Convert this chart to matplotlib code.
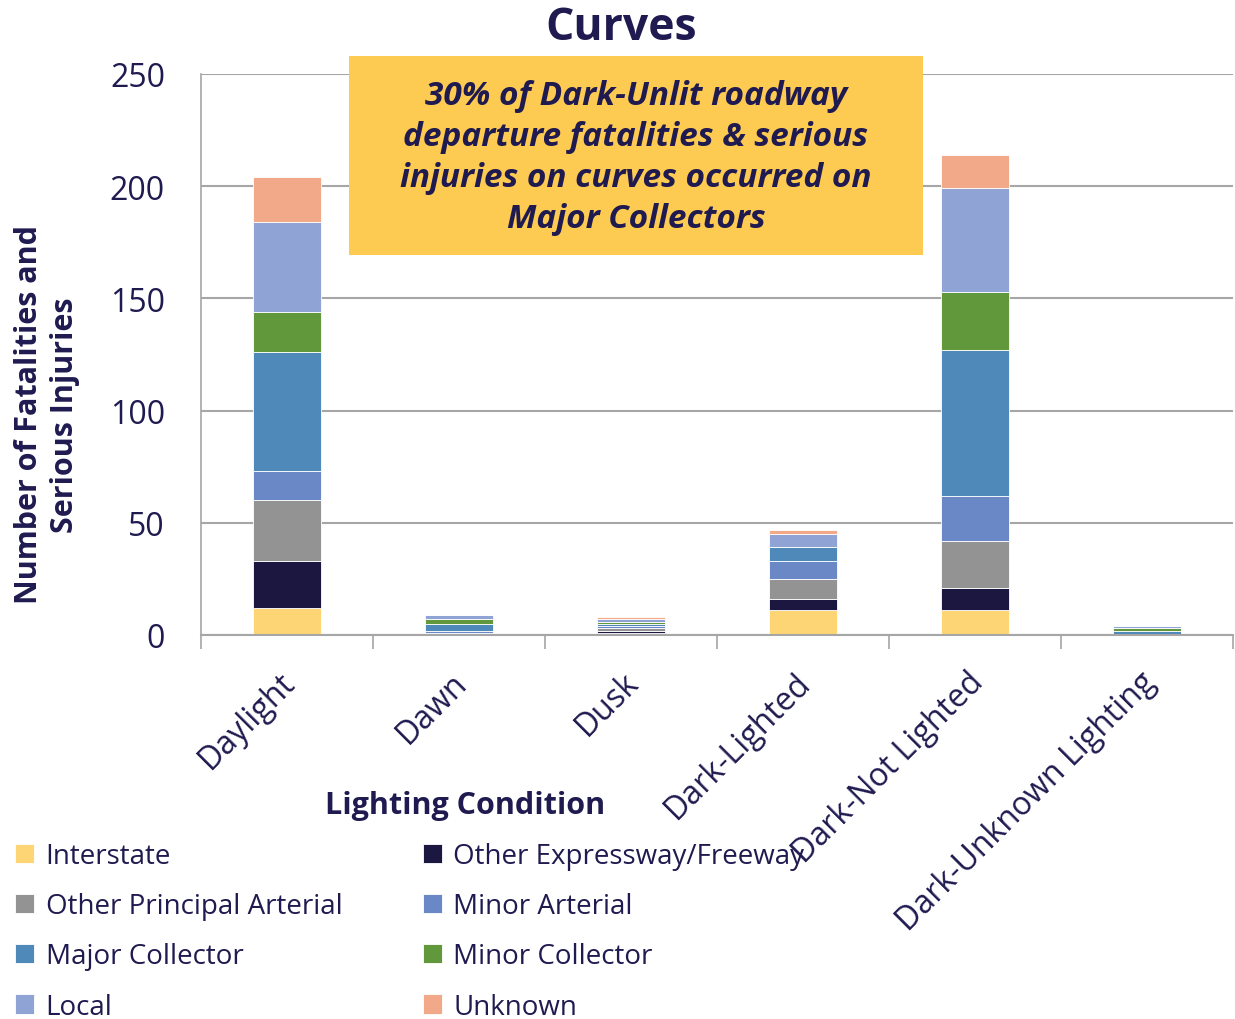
import matplotlib.pyplot as plt
import matplotlib.transforms as mtransforms
import numpy as np

# lighting conditions on the x axis
conditions = ['Daylight', 'Dawn', 'Dusk', 'Dark-Lighted', 'Dark-Not Lighted', 'Dark-Unknown Lighting']

# stacked series, bottom to top
interstate = [12, 1, 1, 11, 11, 0]
other_expressway = [21, 0, 1, 5, 10, 0]
other_principal = [27, 0, 1, 9, 21, 0]
minor_arterial = [13, 1, 1, 8, 20, 0]
major_collector = [53, 3, 1, 6, 65, 2]
minor_collector = [18, 2, 1, 0, 26, 1]
local = [40, 2, 1, 6, 46, 1]
unknown = [20, 0, 1, 2, 15, 0]

series = [
    ('Interstate', interstate, '#FDD574'),
    ('Other Expressway/Freeway', other_expressway, '#1C1740'),
    ('Other Principal Arterial', other_principal, '#939393'),
    ('Minor Arterial', minor_arterial, '#6B88C6'),
    ('Major Collector', major_collector, '#4E89BA'),
    ('Minor Collector', minor_collector, '#62983C'),
    ('Local', local, '#8FA3D4'),
    ('Unknown', unknown, '#F1A98A'),
]

navy = '#1F1A4F'
plt.rcParams['font.family'] = ['Open Sans', 'DejaVu Sans']

fig = plt.figure(figsize=(12.35, 10.2), dpi=100)
ax = fig.add_axes([201 / 1235, 1 - 636 / 1020, 1032 / 1235, 561 / 1020])

x = np.arange(len(conditions))
bottom = np.zeros(len(conditions))
handles = {}
for name, vals, col in series:
    b = ax.bar(x, vals, width=0.4, bottom=bottom, color=col, edgecolor='white', linewidth=0.6, label=name)
    handles[name] = b
    bottom += np.array(vals)

ax.set_xlim(-0.5, len(conditions) - 0.5)
ax.set_ylim(0, 250)
ax.set_yticks(np.arange(0, 251, 50))
ax.yaxis.grid(True, color='#A6A6A6', linewidth=1.5)
ax.set_axisbelow(True)
for s in ['top', 'right']:
    ax.spines[s].set_visible(False)
ax.spines['left'].set_color('#A6A6A6')
ax.spines['bottom'].set_color('#A6A6A6')
ax.spines['left'].set_linewidth(1.2)
ax.spines['bottom'].set_linewidth(1.5)

ax.tick_params(axis='y', length=0, labelsize=23, labelcolor=navy, pad=26)
ax.set_xticks(x)
ax.set_xticklabels(conditions, rotation=45, ha='right', rotation_mode='anchor', fontsize=23, color=navy)
ax.tick_params(axis='x', length=0, pad=22)
shift = mtransforms.ScaledTranslation(-6 / 72, 0, fig.dpi_scale_trans)
for lab in ax.get_xticklabels():
    lab.set_transform(lab.get_transform() + shift)
ax.set_xticks(np.arange(-0.5, len(conditions), 1), minor=True)
ax.tick_params(axis='x', which='minor', length=10, width=1.2, color='#A6A6A6', direction='out')

fig.text(621 / 1235, 1 - 28 / 1020, 'Curves', ha='center', va='center', fontsize=32, fontweight='bold', color=navy)
fig.text(465 / 1235, 1 - 806 / 1020, 'Lighting Condition', ha='center', va='center', fontsize=22, fontweight='bold', color=navy)
fig.text(47 / 1235, 1 - 415 / 1020, 'Number of Fatalities and\nSerious Injuries', ha='center', va='center',
         rotation=90, fontsize=22, fontweight='bold', color=navy, linespacing=1.25)

fig.patches.append(plt.Rectangle((349 / 1235, 1 - 256 / 1020), 574 / 1235, 199 / 1020,
                                 transform=fig.transFigure, facecolor='#FDCA52', edgecolor='none', zorder=5))
fig.text(636 / 1235, 1 - 158 / 1020,
         '30% of Dark-Unlit roadway\ndeparture fatalities & serious\ninjuries on curves occurred on\nMajor Collectors',
         ha='center', va='center', fontsize=24, fontweight='bold', style='italic', color=navy,
         linespacing=1.32, zorder=6)

order = ['Interstate', 'Other Principal Arterial', 'Major Collector', 'Local',
         'Other Expressway/Freeway', 'Minor Arterial', 'Minor Collector', 'Unknown']
fig.legend([handles[n] for n in order], order, ncol=2, loc='upper left',
           bbox_to_anchor=(-10 / 1235, 1 - 818 / 1020), frameon=False, fontsize=20,
           handlelength=0.7, handleheight=0.7, handletextpad=0.4, columnspacing=2.9,
           labelspacing=0.8, labelcolor=navy)

fig.savefig('out.png', dpi=100)
